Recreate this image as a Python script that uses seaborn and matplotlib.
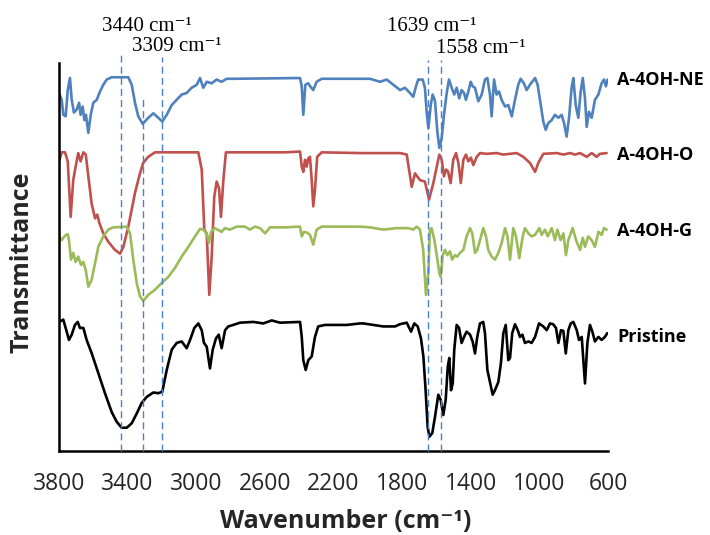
import numpy as np
import pandas as pd
import matplotlib
matplotlib.use("Agg")
import matplotlib.pyplot as plt
import seaborn as sns

# ---------------- data ----------------
ne_wn = [3800, 3784, 3775, 3761, 3749, 3736, 3726, 3713, 3697, 3683, 3674, 3662, 3652, 3643, 3629, 3615,
         3600, 3580, 3561, 3542, 3522, 3493, 3396, 3376, 3357, 3338, 3312, 3280, 3250, 3221, 3198, 3172,
         3143, 3114, 3085, 3056, 3027, 2997, 2978, 2959, 2939, 2910, 2881, 2852, 2823, 2784, 2395, 2385,
         2376, 2364, 2347, 2333, 2318, 2298, 2269, 2104, 1987, 1929, 1890, 1851, 1812, 1783, 1754, 1735,
         1719, 1706, 1680, 1667, 1657, 1647, 1633, 1622, 1608, 1595, 1583, 1569, 1556, 1540, 1527, 1511,
         1496, 1482, 1467, 1453, 1439, 1428, 1414, 1400, 1389, 1375, 1356, 1336, 1317, 1303, 1288, 1278,
         1264, 1249, 1235, 1220, 1200, 1181, 1161, 1142, 1123, 1109, 1090, 1074, 1055, 1025, 1010, 992,
         977, 963, 948, 928, 909, 889, 870, 856, 841, 827, 812, 802, 788, 773, 759, 747, 734, 724, 711,
         695, 676, 656, 637, 623, 612, 602]
ne_t = [4.77, 4.68, 4.48, 4.46, 4.81, 4.97, 4.68, 4.51, 4.55, 4.64, 4.48, 4.59, 4.41, 4.48, 4.24, 4.48,
        4.64, 4.68, 4.79, 4.88, 4.95, 4.98, 4.98, 4.88, 4.64, 4.46, 4.36, 4.44, 4.50, 4.44, 4.39, 4.48,
        4.61, 4.68, 4.75, 4.77, 4.84, 4.88, 4.97, 4.84, 4.92, 4.90, 4.95, 4.92, 4.96, 4.96, 4.97, 4.86,
        4.48, 4.88, 4.90, 4.85, 4.81, 4.92, 4.96, 4.96, 4.96, 4.92, 4.95, 4.88, 4.81, 4.84, 4.77, 4.72,
        4.86, 4.95, 4.95, 4.84, 4.52, 4.30, 4.61, 4.75, 4.66, 4.26, 4.04, 4.17, 4.48, 4.77, 4.95, 4.84,
        4.75, 4.84, 4.70, 4.81, 4.77, 4.68, 4.79, 4.92, 4.86, 4.84, 4.66, 4.75, 4.95, 4.97, 4.75, 4.46,
        4.95, 4.75, 4.79, 4.68, 4.59, 4.61, 4.46, 4.68, 4.88, 4.96, 4.90, 4.81, 4.88, 4.97, 4.88, 4.61,
        4.39, 4.28, 4.37, 4.41, 4.48, 4.44, 4.48, 4.37, 4.19, 4.44, 4.84, 4.97, 4.61, 4.44, 4.79, 4.97,
        4.70, 4.32, 4.52, 4.44, 4.68, 4.75, 4.90, 4.95, 4.86, 4.95]

o_wn = [3800, 3784, 3765, 3749, 3732, 3717, 3703, 3688, 3674, 3658, 3644, 3629, 3610, 3590, 3577, 3565,
        3542, 3513, 3474, 3444, 3425, 3396, 3357, 3328, 3309, 3280, 3240, 3201, 2988, 2968, 2953, 2939,
        2924, 2910, 2895, 2881, 2867, 2856, 2842, 2827, 2483, 2395, 2385, 2376, 2366, 2356, 2347, 2337,
        2327, 2318, 2308, 2295, 2269, 2046, 1812, 1773, 1744, 1725, 1696, 1667, 1643, 1618, 1598, 1583,
        1569, 1556, 1544, 1533, 1517, 1502, 1486, 1472, 1458, 1443, 1428, 1414, 1399, 1385, 1365, 1346,
        1307, 1249, 1210, 1171, 1132, 1094, 1055, 1025, 1006, 977, 899, 860, 821, 792, 763, 724, 695,
        666, 647, 608]
o_t = [3.86, 3.98, 3.98, 3.86, 3.12, 3.61, 3.79, 3.97, 3.86, 3.98, 3.95, 3.66, 3.30, 3.10, 3.15, 3.04,
       2.90, 2.79, 2.68, 2.63, 2.72, 2.99, 3.44, 3.70, 3.84, 3.92, 3.98, 3.98, 3.98, 3.75, 2.95, 2.90,
       2.08, 2.59, 3.39, 3.59, 3.50, 3.12, 3.61, 3.98, 3.98, 3.99, 3.79, 3.72, 3.88, 3.79, 3.90, 3.92,
       3.61, 3.26, 3.48, 3.92, 3.98, 3.97, 3.97, 3.95, 3.52, 3.70, 3.61, 3.59, 3.35, 3.57, 3.79, 3.95,
       3.88, 3.66, 3.75, 3.73, 3.57, 3.88, 3.97, 3.84, 3.57, 3.88, 3.95, 3.86, 3.91, 3.81, 3.92, 3.97,
       3.96, 3.97, 3.95, 3.96, 3.97, 3.92, 3.84, 3.72, 3.84, 3.96, 3.97, 3.95, 3.97, 3.95, 3.97, 3.92,
       3.97, 3.92, 3.96, 3.97]

g_wn = [3800, 3784, 3765, 3749, 3742, 3730, 3717, 3703, 3688, 3672, 3658, 3644, 3629, 3610, 3590, 3571,
        3542, 3513, 3484, 3405, 3386, 3367, 3347, 3328, 3309, 3280, 3240, 3201, 3163, 3124, 3085, 3046,
        3007, 2978, 2959, 2939, 2926, 2914, 2891, 2852, 2833, 2803, 2764, 2716, 2687, 2658, 2628, 2599,
        2570, 2483, 2395, 2385, 2372, 2354, 2337, 2318, 2298, 2269, 2046, 1987, 1910, 1832, 1764, 1735,
        1715, 1696, 1677, 1661, 1647, 1638, 1628, 1612, 1598, 1583, 1575, 1563, 1550, 1537, 1521, 1508,
        1492, 1478, 1463, 1443, 1424, 1404, 1391, 1375, 1362, 1346, 1327, 1311, 1298, 1278, 1259, 1239,
        1220, 1200, 1186, 1171, 1152, 1136, 1117, 1097, 1084, 1064, 1045, 1025, 1000, 986, 967, 951, 928,
        909, 895, 876, 860, 845, 831, 806, 786, 763, 747, 734, 715, 695, 676, 656, 637, 623, 608]
g_t = [2.86, 2.81, 2.87, 2.89, 2.81, 2.55, 2.64, 2.52, 2.59, 2.48, 2.52, 2.41, 2.19, 2.28, 2.50, 2.72,
       2.86, 2.95, 2.98, 2.99, 2.90, 2.55, 2.24, 2.06, 2.00, 2.08, 2.15, 2.24, 2.32, 2.44, 2.59, 2.72,
       2.86, 2.96, 2.95, 2.90, 2.77, 2.92, 2.97, 2.92, 2.97, 2.95, 2.99, 2.99, 2.95, 2.99, 2.97, 2.90,
       2.98, 2.98, 2.99, 2.86, 2.92, 2.91, 2.88, 2.75, 2.95, 2.99, 2.99, 2.98, 2.95, 2.97, 2.97, 2.95,
       2.99, 2.95, 2.68, 2.08, 2.37, 2.95, 2.97, 2.81, 2.61, 2.37, 2.32, 2.61, 2.68, 2.61, 2.66, 2.55,
       2.61, 2.59, 2.64, 2.68, 2.86, 2.97, 2.90, 2.64, 2.68, 2.81, 2.97, 2.86, 2.68, 2.59, 2.55, 2.64,
       2.77, 2.97, 2.86, 2.55, 2.97, 2.86, 2.57, 2.86, 2.97, 2.90, 2.86, 2.88, 2.97, 2.88, 2.95, 2.86, 2.97,
       2.81, 2.95, 2.81, 2.90, 2.61, 2.81, 2.97, 2.81, 2.68, 2.84, 2.72, 2.86, 2.81, 2.72, 2.92, 2.88, 2.97, 2.95]

p_wn = [3800, 3775, 3755, 3742, 3726, 3707, 3691, 3678, 3658, 3639, 3609, 3571, 3532, 3493, 3464, 3435,
        3405, 3376, 3347, 3318, 3289, 3250, 3221, 3198, 3172, 3143, 3114, 3085, 3056, 3036, 3011, 2988,
        2968, 2955, 2939, 2920, 2904, 2885, 2869, 2852, 2832, 2813, 2784, 2745, 2667, 2609, 2560, 2512,
        2395, 2385, 2376, 2362, 2347, 2327, 2308, 2289, 2250, 2123, 2046, 2026, 1910, 1841, 1812, 1773,
        1748, 1729, 1709, 1690, 1676, 1663, 1651, 1641, 1624, 1608, 1589, 1575, 1560, 1546, 1534, 1525,
        1515, 1505, 1496, 1482, 1468, 1453, 1439, 1424, 1404, 1389, 1375, 1362, 1346, 1327, 1317, 1303,
        1288, 1272, 1259, 1239, 1224, 1210, 1196, 1181, 1171, 1158, 1142, 1126, 1113, 1099, 1084, 1064,
        1045, 1025, 1002, 977, 957, 938, 920, 903, 889, 874, 860, 846, 831, 817, 802, 782, 769, 753, 734,
        720, 705, 691, 676, 656, 637, 618, 604]
p_t = [1.72, 1.75, 1.59, 1.48, 1.55, 1.68, 1.72, 1.64, 1.64, 1.48, 1.30, 1.04, 0.77, 0.52, 0.39, 0.31,
       0.31, 0.37, 0.50, 0.64, 0.72, 0.78, 0.77, 0.79, 1.08, 1.35, 1.44, 1.46, 1.37, 1.48, 1.64, 1.70,
       1.61, 1.44, 1.39, 1.10, 1.35, 1.50, 1.55, 1.37, 1.61, 1.66, 1.68, 1.71, 1.72, 1.70, 1.74, 1.71,
       1.72, 1.52, 1.21, 1.08, 1.21, 1.26, 1.52, 1.66, 1.68, 1.68, 1.70, 1.70, 1.66, 1.66, 1.69, 1.71,
       1.59, 1.70, 1.66, 1.50, 1.26, 0.81, 0.32, 0.19, 0.24, 0.46, 0.75, 0.68, 0.48, 0.68, 1.12, 1.24,
       0.81, 0.90, 1.35, 1.68, 1.64, 1.44, 1.52, 1.59, 1.55, 1.46, 1.30, 1.52, 1.70, 1.72, 1.57, 1.08,
       0.92, 0.75, 0.81, 0.92, 1.17, 1.57, 1.68, 1.21, 1.24, 1.57, 1.69, 1.61, 1.52, 1.55, 1.44, 1.46,
       1.44, 1.52, 1.70, 1.66, 1.61, 1.70, 1.69, 1.64, 1.44, 1.61, 1.60, 1.30, 1.61, 1.70, 1.72, 1.61,
       1.48, 1.52, 0.90, 1.44, 1.68, 1.59, 1.46, 1.52, 1.48, 1.52, 1.57]

series_names = ["A-4OH-NE", "A-4OH-O", "A-4OH-G", "Pristine"]
series_label_y = [4.95, 3.95, 2.93, 1.52]
marker_wn = [3440, 3309, 3200, 1650, 1576]
marker_top = [5.32, 4.71, 5.25, 5.21, 5.21]
annot_texts = ["3440 cm\u207b\u00b9", "3309 cm\u207b\u00b9", "1639 cm\u207b\u00b9", "1558 cm\u207b\u00b9"]
annot_x = [3549, 3375, 1888, 1603]
annot_y = [5.66, 5.39, 5.66, 5.37]
x_ticks = [3800, 3400, 3000, 2600, 2200, 1800, 1400, 1000, 600]

colors = {"A-4OH-NE": "#4F81BD", "A-4OH-O": "#C0504D", "A-4OH-G": "#9BBB59", "Pristine": "#000000"}

frames = []
for name, wn, t in zip(series_names, [ne_wn, o_wn, g_wn, p_wn], [ne_t, o_t, g_t, p_t]):
    frames.append(pd.DataFrame({"wn": wn, "t": t, "sample": name}))
df = pd.concat(frames, ignore_index=True)

# ---------------- plot ----------------
sns.set_style("white")
plt.rcParams["font.family"] = ["Open Sans", "DejaVu Sans"]

fig = plt.figure(figsize=(7.1, 5.35), dpi=100)
ax = fig.add_axes([0.0831, 0.157, 0.7732, 0.7252])

sns.lineplot(data=df, x="wn", y="t", hue="sample", palette=colors, hue_order=series_names,
             estimator=None, sort=False, linewidth=1.9, legend=False, ax=ax)
for ln in ax.lines:
    ln.set_solid_joinstyle("round")
    ln.set_solid_capstyle("round")

ax.set_xlim(3800, 600)
ax.set_ylim(0, 5.17)

for wn, top in zip(marker_wn, marker_top):
    ax.plot([wn, wn], [0, top], color="#4A7ED0", lw=1.0, dashes=(5, 3), clip_on=False, zorder=5)

for txt, x, y in zip(annot_texts, annot_x, annot_y):
    ax.text(x, y, txt, ha="left", va="center", fontsize=15, color="black",
            family=["Liberation Serif", "DejaVu Serif"], clip_on=False)

for name, y in zip(series_names, series_label_y):
    ax.text(548, y, name, ha="left", va="center", fontsize=13, fontweight="bold",
            color="black", clip_on=False)

ax.set_xticks(x_ticks)
ax.set_xticklabels([str(v) for v in x_ticks])
ax.set_yticks([0, 1, 2, 3, 4, 5])
ax.set_yticklabels([])
ax.tick_params(axis="x", direction="out", length=7, width=1.5, colors="black",
               labelsize=16.5, labelcolor="#262626", pad=8)
ax.tick_params(axis="y", direction="out", length=3, width=0.8, colors="#888888")

for s in ["top", "right"]:
    ax.spines[s].set_visible(False)
for s in ["left", "bottom"]:
    ax.spines[s].set_linewidth(1.8)
    ax.spines[s].set_color("black")

ax.set_xlabel("Wavenumber (cm\u207b\u00b9)", fontsize=18, fontweight="bold")
ax.set_ylabel("Transmittance", fontsize=18, fontweight="bold")
ax.xaxis.set_label_coords(0.523, -0.15)
ax.yaxis.set_label_coords(-0.044, 0.487)

fig.savefig("out.png", dpi=100)
